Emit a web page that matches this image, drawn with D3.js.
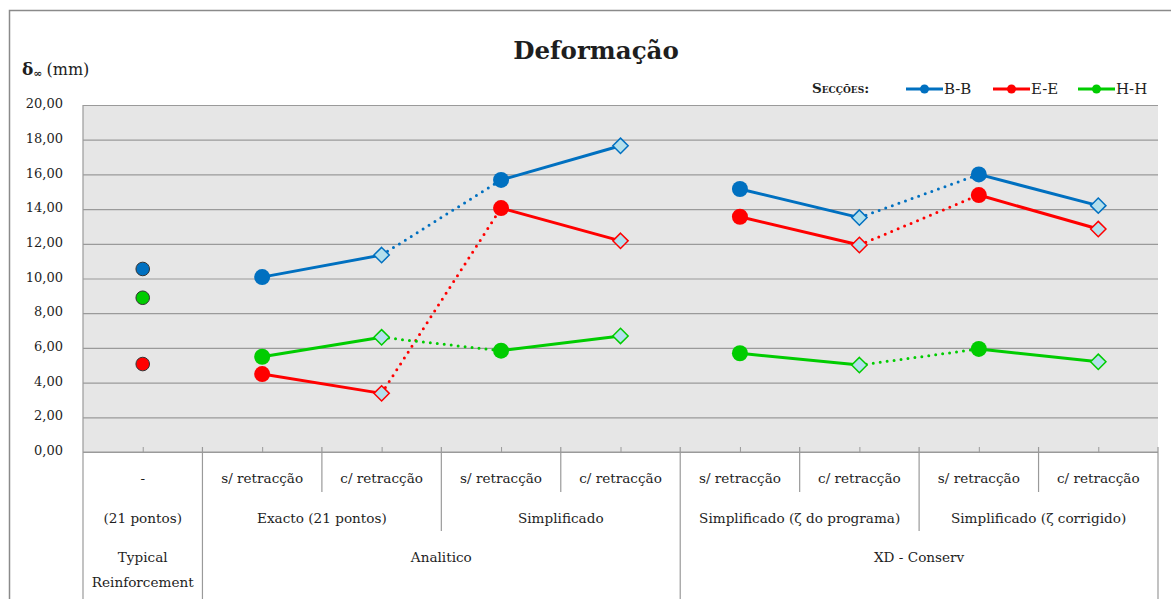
<!DOCTYPE html>
<html>
<head>
<meta charset="utf-8">
<script src="https://cdn.jsdelivr.net/npm/d3@7"></script>
<style>
  body { margin: 0; background: #fff; }
  svg { display: block; }
  text { font-family: "DejaVu Serif", "Liberation Serif", serif; fill: #1e1e1e; }
</style>
</head>
<body>
<svg id="chart" width="1171" height="599"></svg>
<script>
// ---- data ----
const categories = ["-", "s/ retracção", "c/ retracção", "s/ retracção", "c/ retracção",
                    "s/ retracção", "c/ retracção", "s/ retracção", "c/ retracção"];
const subGroupLabels = ["(21 pontos)", "Exacto (21 pontos)", "Simplificado",
                        "Simplificado (ζ do programa)", "Simplificado (ζ corrigido)"];
const subGroupSpans = [[0, 1], [1, 3], [3, 5], [5, 7], [7, 9]];
const mainGroupLabels = [["Typical", "Reinforcement"], ["Analitico"], ["XD - Conserv"]];
const mainGroupSpans = [[0, 1], [1, 5], [5, 9]];

const seriesNames = ["B-B", "E-E", "H-H"];
const valuesBB = [10.55, 10.08, 11.35, 15.68, 17.65, 15.16, 13.51, 16.00, 14.20];
const valuesEE = [5.07, 4.49, 3.38, 14.06, 12.17, 13.56, 11.93, 14.81, 12.85];
const valuesHH = [8.89, 5.49, 6.61, 5.84, 6.69, 5.69, 5.01, 5.94, 5.20];
const seriesColors = ["#0070C0", "#FF0000", "#00CC00"];

const yTicks = [0, 2, 4, 6, 8, 10, 12, 14, 16, 18, 20];
// segments joining categories: solid within a method, dotted between methods
const solidLinks = [[1, 2], [3, 4], [5, 6], [7, 8]];
const dottedLinks = [[2, 3], [6, 7]];

const series = seriesNames.map((name, i) => ({
  name, color: seriesColors[i], values: [valuesBB, valuesEE, valuesHH][i]
}));

// ---- layout ----
const svg = d3.select("#chart");
const plot = { left: 83, right: 1158, top: 105, bottom: 452 };
const tableBottom = 599;
const gridColor = "#9a9a9a";

const x = d3.scaleBand().domain(d3.range(categories.length)).range([plot.left, plot.right]);
const y = d3.scaleLinear().domain([0, 20]).range([plot.bottom, plot.top]);
const fmt = v => d3.format(".2f")(v).replace(".", ",");

// outer frame
svg.append("rect")
  .attr("x", 9.5).attr("y", 10.5).attr("width", 1200).attr("height", 700)
  .attr("fill", "none").attr("stroke", "#8a8a8a").attr("stroke-width", 1.5);

// plot background
svg.append("rect")
  .attr("x", plot.left).attr("y", plot.top)
  .attr("width", plot.right - plot.left).attr("height", plot.bottom - plot.top)
  .attr("fill", "#E6E6E6");

// y axis with gridlines
const yAxis = svg.append("g")
  .attr("transform", `translate(${plot.left},0)`)
  .call(d3.axisLeft(y).tickValues(yTicks).tickFormat(fmt)
        .tickSize(-(plot.right - plot.left)).tickSizeOuter(0).tickPadding(20));
yAxis.select(".domain").remove();
yAxis.selectAll(".tick line").attr("stroke", gridColor).attr("stroke-width", 1.2);
yAxis.selectAll(".tick text")
  .attr("font-family", "DejaVu Serif, serif").attr("font-size", 13)
  .attr("fill", "#1e1e1e").attr("dy", "0.2em");

// x axis line with small ticks at category centres
const xAxis = svg.append("g")
  .attr("transform", `translate(0,${plot.bottom})`)
  .call(d3.axisTop(d3.scalePoint().domain(d3.range(categories.length))
        .range([x(0) + x.bandwidth() / 2, x(categories.length - 1) + x.bandwidth() / 2]))
        .tickSize(5).tickSizeOuter(0).tickFormat(""));
xAxis.select(".domain").remove();
xAxis.selectAll(".tick line").attr("stroke", gridColor);
svg.append("line")
  .attr("x1", plot.left).attr("x2", plot.right)
  .attr("y1", plot.bottom).attr("y2", plot.bottom)
  .attr("stroke", gridColor).attr("stroke-width", 1.2);

// left vertical line of the plot, continuing through the table
svg.append("line")
  .attr("x1", plot.left).attr("x2", plot.left)
  .attr("y1", plot.top).attr("y2", tableBottom)
  .attr("stroke", gridColor).attr("stroke-width", 1.2);

// category table dividers
const rowEnds = { cat: 492, sub: 531, main: tableBottom };
const mainBounds = new Set(mainGroupSpans.flatMap(d => d));
const subBounds = new Set(subGroupSpans.flatMap(d => d));
for (let k = 1; k <= categories.length; k++) {
  const bx = k === categories.length ? plot.right : x(k);
  const yEnd = mainBounds.has(k) ? rowEnds.main : subBounds.has(k) ? rowEnds.sub : rowEnds.cat;
  svg.append("line")
    .attr("x1", bx).attr("x2", bx).attr("y1", plot.bottom - 5).attr("y2", yEnd)
    .attr("stroke", gridColor).attr("stroke-width", 1.2);
}

const labelFont = 13.6;
const tbl = svg.append("g").attr("font-size", labelFont).attr("text-anchor", "middle");
const spanCenter = ([a, b]) => (x(a) + (b === categories.length ? plot.right : x(b))) / 2;
tbl.selectAll(".cat").data(categories).join("text")
  .attr("x", (d, i) => x(i) + x.bandwidth() / 2).attr("y", 483).text(d => d);
tbl.selectAll(".sub").data(subGroupLabels).join("text")
  .attr("x", (d, i) => spanCenter(subGroupSpans[i])).attr("y", 523).text(d => d);
mainGroupLabels.forEach((lines, i) => {
  lines.forEach((ln, j) => {
    tbl.append("text").attr("x", spanCenter(mainGroupSpans[i]))
      .attr("y", 562 + j * 25).text(ln);
  });
});

// series lines
const cx = i => x(i) + x.bandwidth() / 2;
series.forEach(s => {
  const g = svg.append("g");
  solidLinks.forEach(([a, b]) => {
    g.append("line")
      .attr("x1", cx(a)).attr("y1", y(s.values[a])).attr("x2", cx(b)).attr("y2", y(s.values[b]))
      .attr("stroke", s.color).attr("stroke-width", 3);
  });
  dottedLinks.forEach(([a, b]) => {
    g.append("line")
      .attr("x1", cx(a)).attr("y1", y(s.values[a])).attr("x2", cx(b)).attr("y2", y(s.values[b]))
      .attr("stroke", s.color).attr("stroke-width", 3)
      .attr("stroke-linecap", "round").attr("stroke-dasharray", "0,7");
  });
});

// markers
series.forEach(s => {
  const g = svg.append("g");
  s.values.forEach((v, i) => {
    const label = categories[i];
    if (label.startsWith("c/")) {
      g.append("path")
        .attr("d", d3.symbol(d3.symbolDiamond2, 150)())
        .attr("transform", `translate(${cx(i)},${y(v)})`)
        .attr("fill", "#B4E0EC").attr("stroke", s.color).attr("stroke-width", 1.5);
    } else if (label.startsWith("s/")) {
      g.append("circle").attr("cx", cx(i)).attr("cy", y(v)).attr("r", 8)
        .attr("fill", s.color);
    } else {
      g.append("circle").attr("cx", cx(i)).attr("cy", y(v)).attr("r", 6.8)
        .attr("fill", s.color).attr("stroke", "#333").attr("stroke-width", 1);
    }
  });
});

// title
svg.append("text").attr("x", 596).attr("y", 59).attr("text-anchor", "middle")
  .attr("font-size", 24.5).attr("font-weight", "bold").text("Deformação");

// y axis title
const yt = svg.append("text").attr("x", 22).attr("y", 75).attr("font-size", 16);
yt.append("tspan").attr("font-weight", "bold").attr("font-size", 17).text("δ");
yt.append("tspan").attr("font-weight", "bold").attr("font-size", 11).attr("dy", 2).text("∞");
yt.append("tspan").attr("dy", -2).attr("dx", 4).text("(mm)");

// legend
svg.append("text").attr("x", 812).attr("y", 93).attr("font-size", 13.5)
  .attr("font-weight", "bold").attr("font-variant", "small-caps").text("Secções:");
const legendX = [906, 993, 1078];
series.forEach((s, i) => {
  const lg = svg.append("g").attr("transform", `translate(${legendX[i]},89)`);
  lg.append("line").attr("x1", 0).attr("x2", 37).attr("stroke", s.color).attr("stroke-width", 3);
  lg.append("circle").attr("cx", 18.5).attr("r", 4.5).attr("fill", s.color);
  lg.append("text").attr("x", 38).attr("y", 5).attr("font-size", 15).text(s.name);
});
</script>
</body>
</html>
